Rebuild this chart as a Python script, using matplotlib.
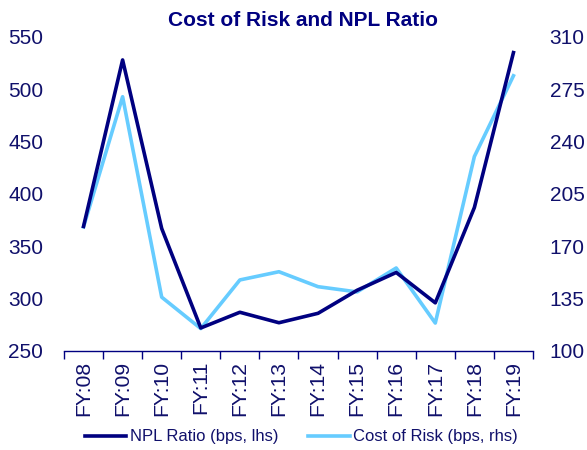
import matplotlib
matplotlib.use("Agg")
import matplotlib.pyplot as plt
import numpy as np

categories = ["FY:08", "FY:09", "FY:10", "FY:11", "FY:12", "FY:13", "FY:14",
              "FY:15", "FY:16", "FY:17", "FY:18", "FY:19"]
npl_ratio = [369, 528, 367, 272, 287, 277, 286, 308, 325, 296, 387, 535]
cost_of_risk = [183, 270, 136, 115, 147.5, 153, 143, 139.5, 155.5, 118.7, 230, 284]
left_ticks = [250, 300, 350, 400, 450, 500, 550]
right_ticks = [100, 135, 170, 205, 240, 275, 310]

NAVY = "#000080"
LIGHT = "#66CCFF"
TXT = "#10106B"

plt.rcParams['font.family'] = ['Liberation Sans', 'DejaVu Sans']

fig = plt.figure(figsize=(5.87, 4.5), dpi=100)
ax = fig.add_axes([0.109, 0.22, 0.799, 0.698])
ax2 = ax.twinx()

x = np.arange(len(categories))
l1, = ax.plot(x, npl_ratio, color=NAVY, lw=2.6, label="NPL Ratio (bps, lhs)", zorder=3)
l2, = ax2.plot(x, cost_of_risk, color=LIGHT, lw=2.6, label="Cost of Risk (bps, rhs)", zorder=2)
ax.set_zorder(ax2.get_zorder() + 1)
ax.patch.set_visible(False)

ax.set_xlim(-0.5, len(categories) - 0.5)
ax.set_ylim(250, 550)
ax2.set_ylim(100, 310)
ax.set_yticks(left_ticks)
ax2.set_yticks(right_ticks)

ax.set_xticks(np.arange(-0.5, len(categories), 1.0))
ax.set_xticklabels([])
ax.set_xticks(x, minor=True)
ax.set_xticklabels(categories, minor=True, rotation=90, fontsize=15.2, color=TXT)
ax.tick_params(axis='x', which='major', length=6, width=1, color=NAVY, direction='out')
ax.tick_params(axis='x', which='minor', length=0, pad=7)
ax.tick_params(axis='y', length=0, labelsize=15, labelcolor=TXT, pad=15)
ax2.tick_params(axis='y', length=0, labelsize=15, labelcolor=TXT, pad=12)

for a in (ax, ax2):
    for s in ('top', 'right', 'left'):
        a.spines[s].set_visible(False)
ax2.spines['bottom'].set_visible(False)
ax.spines['bottom'].set_color(NAVY)
ax.spines['bottom'].set_linewidth(1)

fig.text(0.517, 0.955, "Cost of Risk and NPL Ratio", ha='center', va='center',
         fontsize=15, fontweight='bold', color=NAVY)

fig.legend([l1, l2], [l1.get_label(), l2.get_label()], loc='center',
           bbox_to_anchor=(0.513, 0.029), ncol=2, frameon=False, fontsize=12,
           handlelength=2.5, handletextpad=0.2, columnspacing=1.8, labelcolor=TXT)

fig.savefig("out.png", dpi=100)
